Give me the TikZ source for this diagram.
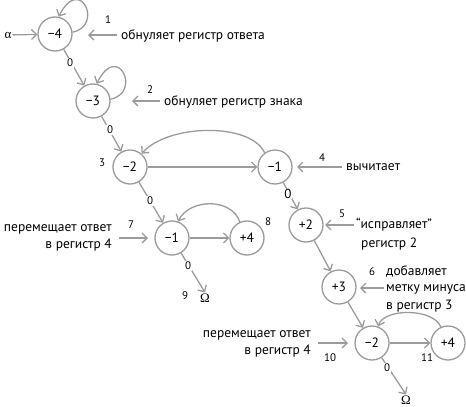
\documentclass[tikz,border=0pt]{standalone}
\usepackage{fontspec}
\setmainfont{PT Sans}
\newfontfamily\grk{Liberation Serif}
\usetikzlibrary{arrows.meta}
\definecolor{lg}{HTML}{9B9B9B}
\begin{document}
\begin{tikzpicture}[x=1pt,y=-1pt,
 st/.style={circle,draw=lg,line width=1.3pt,minimum size=34pt,inner sep=0pt,font=\fontsize{13.5}{15}\selectfont},
 arr/.style={draw=lg,line width=1.3pt,-{Straight Barb[length=5pt,width=10pt]}},
 num/.style={font=\fontsize{11}{13}\selectfont,inner sep=1pt},
 zero/.style={font=\fontsize{11}{13}\selectfont,fill=white,inner sep=0.6pt},
 txt/.style={font=\fontsize{13.5}{17}\selectfont,inner sep=0pt},
 grkst/.style={inner sep=1pt,font=\fontsize{13}{15}\selectfont\grk},
]
\useasboundingbox (0,0) rectangle (466,407);
% states
\node[st] (s1) at (55,34) {−4};
\node[st] (s2) at (93,101) {−3};
\node[st] (s3) at (130,167) {−2};
\node[st] (s4) at (275,167) {−1};
\node[st] (s5) at (172,238) {−1};
\node[st] (s6) at (247,238) {+4};
\node[st] (s7) at (306,225) {+2};
\node[st] (s8) at (339,287) {+3};
\node[st] (s9) at (372,343) {−2};
\node[st] (s10) at (448,343) {+4};
\node[grkst] (al) at (8,35) {α};
\node[grkst] (om1) at (205,298) {Ω};
\node[grkst] (om2) at (406,400) {Ω};
% transitions
\draw[arr] (al) -- (s1);
\draw[arr] (s1) -- (s2);
\draw[arr] (s2) -- (s3);
\draw[arr] (s3) -- (s4);
\draw[arr] (s3) -- (s5);
\draw[arr] (s5) -- (s6);
\draw[arr] (s5) -- (om1.north);
\draw[arr] (s4) -- (s7);
\draw[arr] (s7) -- (s8);
\draw[arr] (s8) -- (s9);
\draw[arr] (s9) -- (s10);
\draw[arr] (s9) -- (om2.north);
% loops and back arcs
\draw[arr] (s1.6) .. controls (104,26) and (80,-26) .. (s1.78);
\draw[arr] (s2.6) .. controls (142,93) and (118,41) .. (s2.78);
\draw[arr] (s4.126) .. controls (250,122) and (168,124) .. (s3.49);
\draw[arr] (s6.114) .. controls (232,198) and (190,198) .. (s5.70);
\draw[arr] (s10.114) .. controls (433,308) and (384,308) .. (s9.70);
% zero labels
\node[zero] (z1) at (70,63) {0};
\node[zero] (z2) at (110,130) {0};
\node[zero] (z3) at (150,201) {0};
\node[zero] (z4) at (188,266) {0};
\node[zero,font=\fontsize{13}{15}\selectfont] (z5) at (288,194) {0};
\node[zero] (z6) at (387,368) {0};
% numbers
\node[num] (n1) at (108,20) {1};
\node[num] (n2) at (150,90) {2};
\node[num] (n3) at (102,163) {3};
\node[num] (n4) at (322,158) {4};
\node[num] (n5) at (342,214) {5};
\node[num] (n6) at (372,272) {6};
\node[num] (n7) at (131,225) {7};
\node[num] (n8) at (268,222) {8};
\node[num] (n9) at (185,296) {9};
\node[num] (n10) at (330,358) {10};
\node[num] (n11) at (427,358) {11};
% comments
\node[txt,anchor=west] (t1) at (121,36) {обнуляет регистр ответа};
\node[txt,anchor=west] (t2) at (164,102) {обнуляет регистр знака};
\node[txt,anchor=west] (t4) at (346,167) {вычитает};
\node[txt,anchor=west] (t5a) at (356,225) {“исправляет”};
\node[txt,anchor=west] (t5b) at (361,244) {регистр 2};
\node[txt,anchor=west] (t6a) at (386,271) {добавляет};
\node[txt,anchor=west] (t6b) at (386,289) {метку минуса};
\node[txt,anchor=west] (t6c) at (386,306) {в регистр 3};
\node[txt,anchor=east,align=right] (t7) at (112,238) {перемещает ответ\\в регистр 4};
\node[txt,anchor=east,align=right] (t10) at (311,344) {перемещает ответ\\в регистр 4};
% comment arrows
\coordinate (a1s) at (117,35); \coordinate (a1) at (88,35);
\coordinate (a2s) at (160,101); \coordinate (a2) at (132,101);
\coordinate (a4s) at (342,167); \coordinate (a4) at (297,167);
\coordinate (a5s) at (354,225); \coordinate (a5) at (325,225);
\coordinate (a6s) at (384,288); \coordinate (a6) at (360,288);
\coordinate (a7s) at (119,238); \coordinate (a7) at (148,238);
\coordinate (a10s) at (318,343); \coordinate (a10) at (348,343);
\draw[arr] (a1s) -- (a1);
\draw[arr] (a2s) -- (a2);
\draw[arr] (a4s) -- (a4);
\draw[arr] (a5s) -- (a5);
\draw[arr] (a6s) -- (a6);
\draw[arr] (a7s) -- (a7);
\draw[arr] (a10s) -- (a10);
\end{tikzpicture}
\end{document}
